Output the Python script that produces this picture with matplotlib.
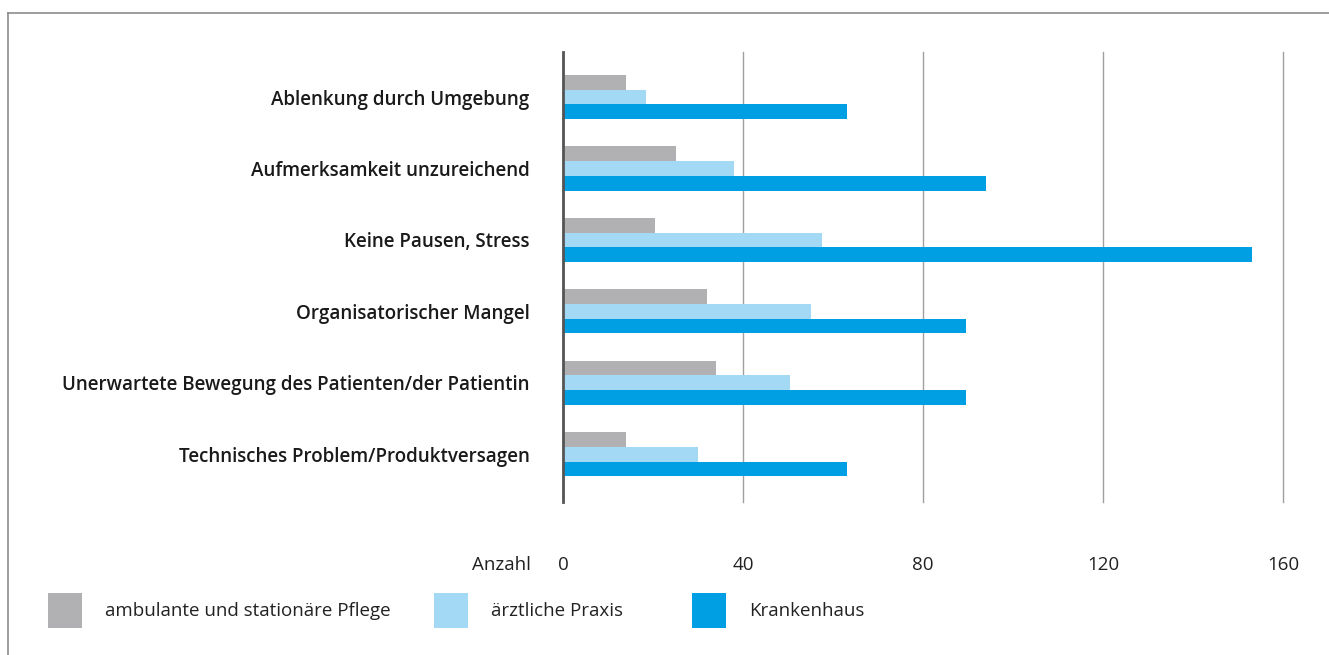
import matplotlib
matplotlib.use("Agg")
import matplotlib.pyplot as plt
import numpy as np
from matplotlib.patches import Rectangle
from matplotlib.lines import Line2D

# Data
categories = [
    "Ablenkung durch Umgebung",
    "Aufmerksamkeit unzureichend",
    "Keine Pausen, Stress",
    "Organisatorischer Mangel",
    "Unerwartete Bewegung des Patienten/der Patientin",
    "Technisches Problem/Produktversagen",
]
pflege = [14, 25, 20.5, 32, 34, 14]
praxis = [18.5, 38, 57.5, 55, 50.5, 30]
krankenhaus = [63, 94, 153, 89.5, 89.5, 63]
series_names = ["ambulante und stationäre Pflege", "ärztliche Praxis", "Krankenhaus"]
xticks = [0, 40, 80, 120, 160]

colors = ["#b1b1b3", "#a3d9f5", "#009fe3"]
font = "Open Sans"

fig = plt.figure(figsize=(13.29, 6.55), dpi=100)
W, H = 1329, 655
ax = fig.add_axes([563 / W, 1 - 502 / H, (1283 - 563) / W, (502 - 52) / H])

y = np.arange(len(categories))
h = 0.206
for i, vals in enumerate([pflege, praxis, krankenhaus]):
    ax.barh(y + (i - 1) * h, vals, height=h, color=colors[i], zorder=3)

ax.set_xlim(0, 160)
ax.set_ylim(len(categories) - 1 + 0.67, -0.63)

ax.set_yticks(y)
ax.set_yticklabels(categories, fontsize=13.5, fontweight="semibold", family=font, color="#1a1a1a")
ax.set_xticks(xticks)
ax.set_xticklabels([str(t) for t in xticks], fontsize=13.5, family=font, color="#222222")
ax.tick_params(axis="y", length=0, pad=24)
ax.tick_params(axis="x", length=0, pad=39)
ax.text(-0.045, -0.14, "Anzahl", transform=ax.transAxes, ha="right", va="center",
        fontsize=13.5, family=font, color="#222222")

ax.grid(axis="x", color="#a0a0a0", linewidth=1.0, zorder=0)
for gl in ax.get_xgridlines():
    gl.set_clip_on(False)
for s in ["top", "right", "bottom"]:
    ax.spines[s].set_visible(False)
ax.spines["left"].set_color("#555555")
ax.spines["left"].set_linewidth(2.0)
ax.spines["left"].set_zorder(4)

# frame (top and left only)
fig.add_artist(Line2D([8 / W, 8 / W], [0, 1 - 13 / H], transform=fig.transFigure, color="#8c8c8c", lw=1.2))
fig.add_artist(Line2D([8 / W, 1], [1 - 13 / H, 1 - 13 / H], transform=fig.transFigure, color="#8c8c8c", lw=1.2))

# legend
leg_x = [48, 434, 692]
for x0, c, name in zip(leg_x, colors, series_names):
    fig.add_artist(Rectangle((x0 / W, 1 - 628 / H), 34 / W, 35 / H, transform=fig.transFigure,
                             color=c, lw=0))
    fig.text((x0 + 57) / W, 1 - 611 / H, name, ha="left", va="center", fontsize=13.5,
             family=font, color="#222222")

fig.savefig("out.png", dpi=100)
